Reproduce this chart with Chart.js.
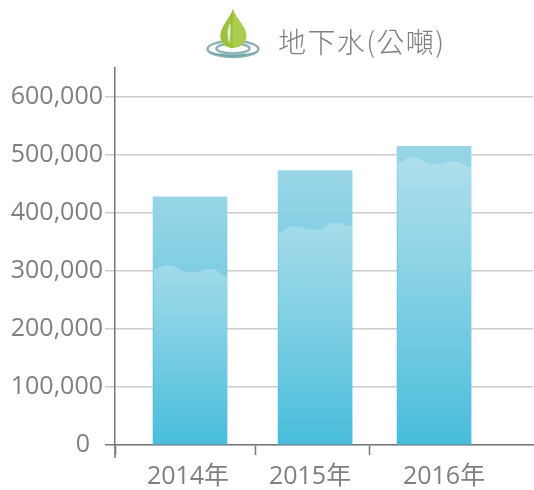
<!DOCTYPE html>
<html>
<head>
<meta charset="utf-8">
<title>地下水(公噸)</title>
<script src="https://cdn.jsdelivr.net/npm/chart.js@4"></script>
<style>
    html, body { margin: 0; padding: 0; background: #fff; }
    #wrap { position: relative; width: 534px; height: 490px; overflow: hidden; }
    #trendChart { position: absolute; left: 0; top: 0; }
    #icon { position: absolute; left: 200px; top: 4px; }
    #title {
        position: absolute; left: 278px; top: 21px; white-space: nowrap;
        font: 28px/40px "Noto Sans CJK TC", sans-serif; font-weight: 300;
        letter-spacing: 1.4px; color: #7f7f7f;
    }
</style>
</head>
<body>
<div id="wrap">
    <canvas id="trendChart" width="534" height="490"></canvas>
    <svg id="icon" width="70" height="60" viewBox="0 0 70 60">
        <ellipse cx="33" cy="45" rx="25.5" ry="8" fill="none" stroke="#8fb3b5" stroke-width="2.5"/>
        <path d="M8 46 C12 55 54 55 58 46 C52 52 14 52 8 46 Z" fill="#6fa5ac"/>
        <ellipse cx="33" cy="44.5" rx="16.5" ry="5" fill="none" stroke="#8fb3b5" stroke-width="2.5"/>
        <path d="M33 5 C30 15 20.5 22 20.5 32 C20.5 39 26 44 33 44 C40 44 46.5 39 46.5 32 C46.5 22 36 15 33 5 Z" fill="#a9cc4c"/>
        <path d="M33 5 C30 15 20.5 22 20.5 32 C20.5 39 26 44 33 44 Z" fill="#9cc13f"/>
        <path d="M30 19 C27 25 26.5 33 29.5 39 C30.5 33 31 25 30 19 Z" fill="#e6eddc"/>
    </svg>
    <div id="title">地下水(公噸)</div>
</div>

<script>
// ========================================
// DATA
// ========================================
const years = [2014, 2015, 2016];
const categoryLabels = ['2014年', '2015年', '2016年'];
const totalTons = [428000, 473000, 515000];
const waterLevels = [310000, 383000, 496000];
const yTickValues = [0, 100000, 200000, 300000, 400000, 500000, 600000];

// ========================================
// LAYOUT TWEAKS (reference is not evenly spaced)
// ========================================
const yearNudge = [0, 0.025, 0];
const xSeparators = [2013.385, 2014.533, 2015.475];
const labelShift = [-2, -2, 10];
const waveStops = [0, 0.18, 0.5, 0.78, 1];
const waveOffsets = [
    [4, 0, 7, 3.5, 11],
    [10, 3.5, 7, 0, 3.5],
    [5, 0, 7, 4, 10]
];

const fontFamily = '"Open Sans", "Noto Sans CJK TC", sans-serif';
const textColor = '#7f7f7f';
const axisColor = '#777777';

function toPoints(values) {
    return values.map(function(v, i) {
        return { x: years[i] + yearNudge[i], y: v };
    });
}

// Bar fill runs from pale at the top of each bar to saturated at the base
function barGradient(context) {
    const chart = context.chart;
    if (!chart.chartArea || context.raw === undefined) return '#7fcbe2';
    const y = chart.scales.y;
    const g = chart.ctx.createLinearGradient(0, y.getPixelForValue(context.raw.y), 0, y.getPixelForValue(0));
    g.addColorStop(0, '#98d5e6');
    g.addColorStop(1, '#47bddb');
    return g;
}

// Draws the lighter water body with a wavy surface inside each bar
const wavePlugin = {
    id: 'wave',
    afterDatasetsDraw: function(chart) {
        const ctx = chart.ctx;
        chart.getDatasetMeta(1).data.forEach(function(bar, i) {
            const left = bar.x - bar.width / 2 + 1;
            const w = bar.width - 1;
            const pts = waveStops.map(function(s, k) {
                return { x: left + s * w, y: bar.y + waveOffsets[i][k] };
            });
            const g = ctx.createLinearGradient(0, bar.y, 0, bar.base);
            g.addColorStop(0, 'rgba(255,255,255,0.24)');
            g.addColorStop(1, 'rgba(255,255,255,0)');
            ctx.save();
            ctx.fillStyle = g;
            ctx.beginPath();
            ctx.moveTo(pts[0].x, pts[0].y);
            for (let k = 1; k < pts.length; k++) {
                const midX = (pts[k - 1].x + pts[k].x) / 2;
                ctx.bezierCurveTo(midX, pts[k - 1].y, midX, pts[k].y, pts[k].x, pts[k].y);
            }
            ctx.lineTo(left + w, bar.base);
            ctx.lineTo(left, bar.base);
            ctx.closePath();
            ctx.fill();
            ctx.restore();
        });
    },
    afterDraw: function(chart) {
        const ctx = chart.ctx;
        const x = chart.scales.x;
        const bottom = chart.chartArea.bottom;
        ctx.save();
        // y axis runs a little lower than the other tick marks
        ctx.strokeStyle = axisColor;
        ctx.lineWidth = 1.5;
        ctx.beginPath();
        ctx.moveTo(chart.chartArea.left, bottom);
        ctx.lineTo(chart.chartArea.left, bottom + 13);
        ctx.stroke();
        // category labels sit off-centre from the bars in the reference
        ctx.font = '25px ' + fontFamily;
        ctx.fillStyle = textColor;
        ctx.textAlign = 'center';
        ctx.textBaseline = 'middle';
        categoryLabels.forEach(function(label, i) {
            ctx.fillText(label, x.getPixelForValue(years[i]) + labelShift[i], bottom + 32);
        });
        ctx.restore();
    }
};

// ========================================
// CHART
// ========================================
new Chart(document.getElementById('trendChart').getContext('2d'), {
    type: 'bar',
    data: {
        datasets: [
            {
                label: '地下水(公噸)',
                data: toPoints(totalTons),
                backgroundColor: barGradient,
                barThickness: 74,
                grouped: false
            },
            {
                label: 'water level',
                data: toPoints(waterLevels),
                backgroundColor: 'rgba(0,0,0,0)',
                barThickness: 74,
                grouped: false
            }
        ]
    },
    options: {
        responsive: false,
        animation: false,
        layout: { padding: { top: 68, right: 1, bottom: 0, left: 0 } },
        plugins: {
            legend: { display: false },
            tooltip: { enabled: false }
        },
        scales: {
            x: {
                type: 'linear',
                offset: false,
                min: 2013.385,
                max: 2016.811,
                afterBuildTicks: function(scale) {
                    scale.ticks = xSeparators.map(function(v) { return { value: v }; });
                },
                afterFit: function(scale) { scale.height = 45; },
                ticks: { display: false, autoSkip: false },
                grid: {
                    offset: false,
                    drawOnChartArea: false,
                    drawTicks: true,
                    tickLength: 10,
                    tickWidth: 1.5,
                    tickColor: axisColor
                },
                border: { color: axisColor, width: 1.5 }
            },
            y: {
                min: 0,
                max: 650000,
                afterBuildTicks: function(scale) {
                    scale.ticks = yTickValues.map(function(v) { return { value: v }; });
                },
                afterFit: function(scale) { scale.width = 115; },
                ticks: {
                    padding: 2,
                    color: textColor,
                    autoSkip: false,
                    font: { family: fontFamily, size: 25 },
                    // the zero label stands further from the axis than the others
                    callback: function(value) { return value === 0 ? '0\u00a0\u00a0' : value.toLocaleString('en-US'); }
                },
                grid: {
                    color: '#cccccc',
                    lineWidth: 1.5,
                    tickLength: 10,
                    tickColor: function(c) { return c.tick.value === 0 ? axisColor : '#cccccc'; }
                },
                border: { color: axisColor, width: 1.5 }
            }
        }
    },
    plugins: [wavePlugin]
});
</script>
</body>
</html>
